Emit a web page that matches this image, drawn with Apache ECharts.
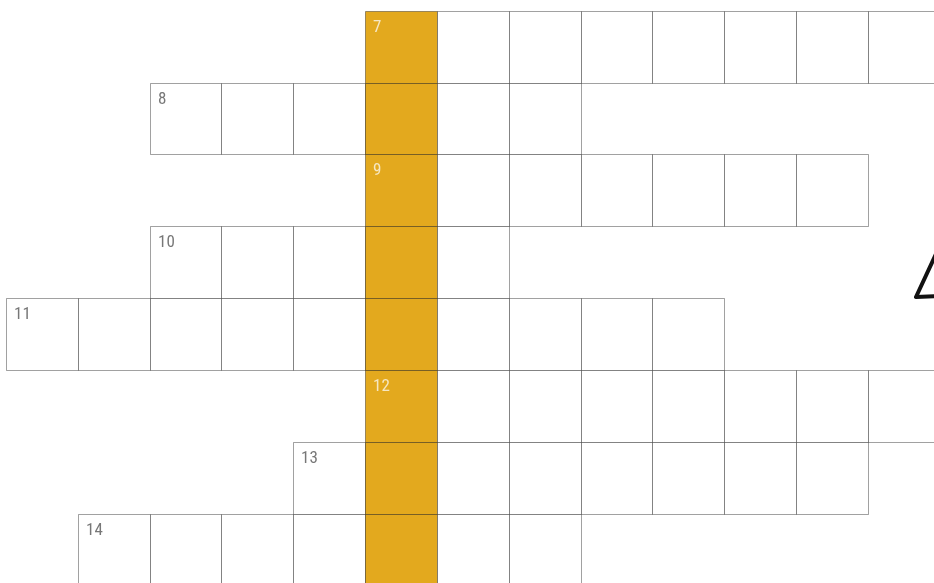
<!DOCTYPE html>
<html>
<head>
<meta charset="utf-8">
<script src="https://cdn.jsdelivr.net/npm/echarts@6/dist/echarts.min.js"></script>
<style>html,body{margin:0;padding:0;background:#fff;}#c{width:934px;height:583px;}</style>
</head>
<body>
<div id="c"></div>
<script>
// Crossword rows: row index, first column, last column (inclusive), clue number
const rowIndex = [0, 1, 2, 3, 4, 5, 6, 7];
const rowStart = [5, 2, 5, 2, 0, 5, 4, 1];
const rowEnd   = [12, 7, 11, 6, 9, 12, 11, 7];
const rowLabels = ['7', '8', '9', '10', '11', '12', '13', '14'];
const highlightCol = 5;

const cells = [];
rowIndex.forEach(function (r, i) {
  for (let c = rowStart[i]; c <= rowEnd[i]; c++) {
    cells.push([c, r, c === rowStart[i] ? rowLabels[i] : '', c === highlightCol ? 1 : 0]);
  }
});

const CELL = 71.85, OX = 6.3, OY = 11.3, W = 934, H = 583;
function snap(v) { return Math.round(v - 0.5) + 0.5; }
const chart = echarts.init(document.getElementById('c'), null, {renderer: 'canvas'});
chart.setOption({
  animation: false,
  grid: {left: 0, right: 0, top: 0, bottom: 0},
  xAxis: {type: 'value', min: -OX / CELL, max: (W - OX) / CELL, show: false},
  yAxis: {type: 'value', inverse: true, min: -OY / CELL, max: (H - OY) / CELL, show: false},
  graphic: [{
    type: 'polyline',
    shape: {points: [[936, 254], [916, 297], [940, 296]]},
    style: {stroke: '#111', lineWidth: 4, lineJoin: 'round', lineCap: 'round', fill: null},
    z: 100
  }],
  series: [{
    type: 'custom',
    data: cells,
    renderItem: function (params, api) {
      const c = api.value(0), r = api.value(1), hl = api.value(3);
      const label = cells[params.dataIndex][2];
      const p0 = api.coord([c, r]);
      const p1 = api.coord([c + 1, r + 1]);
      const x0 = snap(p0[0]), y0 = snap(p0[1]), x1 = snap(p1[0]), y1 = snap(p1[1]);
      const children = [{
        type: 'rect',
        shape: {x: x0, y: y0, width: x1 - x0, height: y1 - y0},
        style: {fill: hl ? '#E3A91E' : '#fff', stroke: 'rgba(0,0,0,0.37)', lineWidth: 1}
      }];
      if (label) {
        children.push({type: 'text', z2: 20,
          style: {text: label, x: x0 + 7.5, y: y0 + 7.5, textVerticalAlign: 'top',
            fill: hl ? '#F6E7C2' : '#777777', fontSize: 17,
            fontFamily: "'Roboto Condensed', 'Liberation Sans Narrow', 'Roboto', sans-serif"}});
      }
      return {type: 'group', children: children};
    }
  }]
});
</script>
</body>
</html>
